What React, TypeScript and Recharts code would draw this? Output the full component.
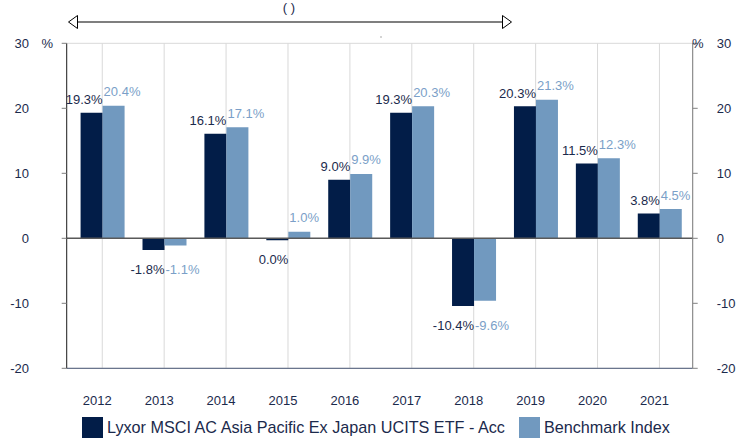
import React from 'react';
import { BarChart, Bar, XAxis, YAxis, CartesianGrid, ReferenceLine, LabelList } from 'recharts';

const years = ['2012', '2013', '2014', '2015', '2016', '2017', '2018', '2019', '2020', '2021'];
const fundValues = [19.3, -1.8, 16.1, -0.3, 9.0, 19.3, -10.4, 20.3, 11.5, 3.8];
const benchValues = [20.4, -1.1, 17.1, 1.0, 9.9, 20.3, -9.6, 21.3, 12.3, 4.5];
const fundLabels = ['19.3%', '-1.8%', '16.1%', '0.0%', '9.0%', '19.3%', '-10.4%', '20.3%', '11.5%', '3.8%'];
const benchLabels = ['20.4%', '-1.1%', '17.1%', '1.0%', '9.9%', '20.3%', '-9.6%', '21.3%', '12.3%', '4.5%'];
const yTicks = [-20, -10, 0, 10, 20, 30];
const fundName = 'Lyxor MSCI AC Asia Pacific Ex Japan UCITS ETF - Acc';
const benchName = 'Benchmark Index';

const DARK = '#021d48';
const LIGHT = '#7199bf';
const TEXT = '#1b2a4c';
const LIGHT_TEXT = '#7b9fc8';
const FONT = '"Liberation Sans", Arial, sans-serif';

const data = years.map((y, i) => ({ year: y, fund: fundValues[i], bench: benchValues[i] }));

const makeLabel = (labels: string[], side: 'fund' | 'bench') => (props: any) => {
  const { x, y, width, height, index } = props;
  const top = Math.min(y, y + height);
  const bottom = Math.max(y, y + height);
  const v = side === 'fund' ? fundValues[index] : benchValues[index];
  let ty: number;
  if (v >= 0) ty = top - (side === 'fund' ? 8.5 : 9.5);
  else ty = bottom + (side === 'fund' ? 24 : 29);
  const tx = side === 'fund' ? x + width : x + 1;
  return (
    <text
      x={tx}
      y={ty}
      textAnchor={side === 'fund' ? 'end' : 'start'}
      fontSize={13}
      fontFamily={FONT}
      fill={side === 'fund' ? TEXT : LIGHT_TEXT}
    >
      {labels[index]}
    </text>
  );
};

const PctLeft = (props: any) => {
  const { x, y, payload } = props;
  return (
    <g>
      <text x={x} y={y} dy="0.35em" textAnchor="end" fontSize={13} fontFamily={FONT} fill={TEXT}>
        {payload.value}
      </text>
      {payload.value === 30 && (
        <text x={53} y={y} dy="0.35em" textAnchor="end" fontSize={13} fontFamily={FONT} fill={TEXT}>
          %
        </text>
      )}
    </g>
  );
};

const PctRight = (props: any) => {
  const { x, y, payload } = props;
  return (
    <g>
      <text x={x} y={y} dy="0.35em" textAnchor="start" fontSize={13} fontFamily={FONT} fill={TEXT}>
        {payload.value}
      </text>
      {payload.value === 30 && (
        <text x={692} y={y} dy="0.35em" textAnchor="start" fontSize={13} fontFamily={FONT} fill={TEXT}>
          %
        </text>
      )}
    </g>
  );
};

const YearTick = (props: any) => {
  const { x, y, payload } = props;
  return (
    <text x={x - 5} y={y} dy="0.71em" textAnchor="middle" fontSize={13} fontFamily={FONT} fill={TEXT}>
      {payload.value}
    </text>
  );
};

export default function App() {
  return (
    <div style={{ position: 'absolute', left: 0, top: 0, width: 737, height: 439, background: '#fff', fontFamily: FONT }}>
      <BarChart
        width={737}
        height={439}
        data={data}
        margin={{ top: 43.3, right: 0, bottom: 25.7, left: 0 }}
        barCategoryGap="15%"
        barGap={0}
      >
        <CartesianGrid stroke="#d9d9d9" strokeWidth={1} />
        <XAxis
          dataKey="year"
          height={45}
          tickLine={false}
          tickSize={0}
          tickMargin={27.5}
          axisLine={{ stroke: '#4d5b78', strokeWidth: 1 }}
          padding={{ left: 4.6, right: 2.3 }}
          tick={<YearTick />}
          interval={0}
        />
        <YAxis
          yAxisId="left"
          orientation="left"
          width={66.7}
          domain={[-20, 30]}
          ticks={yTicks}
          tickSize={5}
          tickMargin={32.7}
          axisLine={{ stroke: '#262626' }}
          tickLine={{ stroke: '#7f7f7f' }}
          tick={<PctLeft />}
          allowDataOverflow
        />
        <YAxis
          yAxisId="right"
          orientation="right"
          width={44.3}
          domain={[-20, 30]}
          ticks={yTicks}
          tickSize={5}
          tickMargin={19}
          axisLine={{ stroke: '#808080' }}
          tickLine={{ stroke: '#808080' }}
          tick={<PctRight />}
          allowDataOverflow
        />
        <Bar yAxisId="left" dataKey="fund" fill={DARK} isAnimationActive={false}>
          <LabelList dataKey="fund" content={makeLabel(fundLabels, 'fund')} />
        </Bar>
        <Bar yAxisId="left" dataKey="bench" fill={LIGHT} isAnimationActive={false}>
          <LabelList dataKey="bench" content={makeLabel(benchLabels, 'bench')} />
        </Bar>
        <ReferenceLine yAxisId="left" y={0} stroke="#595959" strokeWidth={1.5} />
      </BarChart>
      <svg
        width={737}
        height={60}
        style={{ position: 'absolute', left: 0, top: 0, pointerEvents: 'none' }}
      >
        <text x={289} y={12} textAnchor="middle" fontSize={13} fontFamily={FONT} fill={TEXT}>
          ( )
        </text>
        <line x1={77} y1={22} x2={502} y2={22} stroke="#000" strokeWidth={1.2} />
        <polygon points="68.5,22 77.5,15.5 77.5,28.5" fill="#fff" stroke="#000" strokeWidth={1} />
        <polygon points="511.5,22 502.5,15.5 502.5,28.5" fill="#fff" stroke="#000" strokeWidth={1} />
        <circle cx={381} cy={37} r={0.7} fill="#888" />
      </svg>
      <div style={{ position: 'absolute', left: 82, top: 417, display: 'flex', alignItems: 'center', fontSize: 16.2, color: TEXT, fontFamily: FONT, whiteSpace: 'nowrap' }}>
        <span style={{ display: 'inline-block', width: 21, height: 21, background: DARK, marginRight: 4 }} />
        <span>{fundName}</span>
        <span style={{ display: 'inline-block', width: 21, height: 21, background: LIGHT, marginLeft: 14, marginRight: 4 }} />
        <span>{benchName}</span>
      </div>
    </div>
  );
}
